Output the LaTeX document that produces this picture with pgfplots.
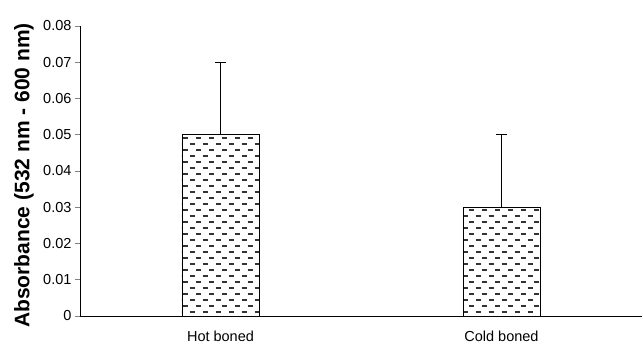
\documentclass[border=0pt]{standalone}
\usepackage{pgfplots}
\pgfplotsset{compat=1.18}
\usepackage{fontspec}
\setmainfont{Liberation Sans}
\usetikzlibrary{patterns}
\pgfdeclarepatternformonly{hdash}{\pgfqpoint{-1pt}{-1pt}}{\pgfqpoint{15pt}{13pt}}{\pgfqpoint{13pt}{12pt}}{%
  \pgfsetlinewidth{1.3pt}%
  \pgfpathmoveto{\pgfqpoint{1pt}{3pt}}\pgfpathlineto{\pgfqpoint{6pt}{3pt}}%
  \pgfpathmoveto{\pgfqpoint{7.5pt}{9pt}}\pgfpathlineto{\pgfqpoint{12.5pt}{9pt}}%
  \pgfusepath{stroke}}
\begin{document}
\begin{tikzpicture}
\path[use as bounding box] (-80pt,-29pt) rectangle (563pt,316pt);
\begin{axis}[
  at={(0,0)}, anchor=south west,
  scale only axis, width=562pt, height=290pt,
  xmin=-0.5, xmax=1.5, ymin=0, ymax=0.08,
  axis x line*=bottom, axis y line*=left,
  axis line style={-, line width=0.8pt},
  xtick={0,1}, xticklabels={Hot boned, Cold boned},
  xtick style={draw=none},
  scaled y ticks=false,
  ytick={0,0.01,0.02,0.03,0.04,0.05,0.06,0.07,0.08},
  yticklabels={0,0.01,0.02,0.03,0.04,0.05,0.06,0.07,0.08},
  tick align=outside, major tick length=5pt,
  ytick style={line width=0.8pt},
  tick label style={font=\fontsize{14.5}{17}\selectfont},
  xticklabel style={yshift=-6pt},
  ylabel={Absorbance (532 nm - 600 nm)},
  ylabel style={at={(axis description cs:-0.0996,0.4845)}, anchor=center, font=\bfseries\fontsize{21}{24}\selectfont},
]
\addplot[ybar, bar width=77pt, draw=black, line width=0.9pt, pattern=hdash, pattern color=black!80,
  error bars/.cd, y dir=plus, y explicit,
  error bar style={black, line width=0.9pt},
  error mark options={rotate=90, mark size=5.5pt, line width=0.9pt}]
  coordinates {(0,0.05) +- (0,0.02) (1,0.03) +- (0,0.02)};
\end{axis}
\end{tikzpicture}
\end{document}
